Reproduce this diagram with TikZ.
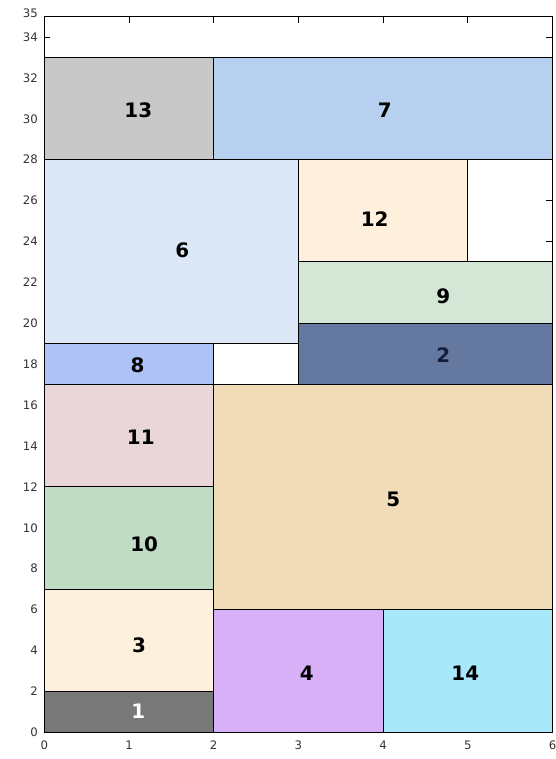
\documentclass[tikz,border=0pt]{standalone}
\usepackage{fontspec}
\setmainfont{DejaVu Sans}
\usepackage{tikz}
\definecolor{cOne}{HTML}{787878}
\definecolor{cTwo}{HTML}{6478A0}
\definecolor{cThree}{HTML}{FDF0DC}
\definecolor{cFour}{HTML}{D8B0F8}
\definecolor{cFive}{HTML}{F2DCB8}
\definecolor{cSix}{HTML}{DCE8F8}
\definecolor{cSeven}{HTML}{B8D0F0}
\definecolor{cEight}{HTML}{AEC2F6}
\definecolor{cNine}{HTML}{D4E6D6}
\definecolor{cTen}{HTML}{C0DCC4}
\definecolor{cEleven}{HTML}{E8D6D8}
\definecolor{cTwelve}{HTML}{FEF0DC}
\definecolor{cThirteen}{HTML}{C8C8C8}
\definecolor{cFourteen}{HTML}{A8E8FA}
\definecolor{cNavy}{HTML}{141E3C}
\newcommand{\boxfont}{\fontsize{17}{20}\selectfont\bfseries}
\newcommand{\tickfont}{\fontsize{10}{12}\selectfont}

\begin{document}
\begin{tikzpicture}[x=2.541cm,y=0.6135cm,
  box/.style={draw=black,line width=0.9pt},
  boxlabel/.style={font=\boxfont,inner sep=0pt},
  ticklabel/.style={font=\tickfont,text=black!80,inner sep=0pt}]
\useasboundingbox (-0.523,-1.306) rectangle (6.041,35.81);
% tick marks (inside the frame, partly hidden by the boxes)
\foreach \xx in {1,...,5}
  {\draw[line width=0.8pt] (\xx,35) -- ++(0,-0.18cm);}
\foreach \yy in {2,4,...,34}
  {\draw[line width=0.8pt] (0,\yy) -- ++(0.18cm,0);
   \draw[line width=0.8pt] (6,\yy) -- ++(-0.18cm,0);}
% tick labels
\foreach \xx in {0,...,6}
  {\node[ticklabel] (xt\xx) at (\xx,-0.62) {\xx};}
\foreach \yy in {0,2,...,34}
  {\node[ticklabel,anchor=east] (yt\yy) at (-0.075,\yy) {\yy};}
\node[ticklabel,anchor=east] (yt35) at (-0.075,35.15) {35};
% boxes: number / lower left / upper right / label position / fill / text
\foreach \num/\xa/\ya/\xb/\yb/\lx/\ly/\col/\tc in {
    1/0/0/2/2/1.11/1.04/cOne/white,
    3/0/2/2/7/1.12/4.24/cThree/black,
    10/0/7/2/12/1.18/9.21/cTen/black,
    11/0/12/2/17/1.14/14.45/cEleven/black,
    8/0/17/2/19/1.10/17.96/cEight/black,
    6/0/19/3/28/1.63/23.55/cSix/black,
    13/0/28/2/33/1.11/30.43/cThirteen/black,
    7/2/28/6/33/4.02/30.43/cSeven/black,
    12/3/23/5/28/3.90/25.10/cTwelve/black,
    9/3/20/6/23/4.71/21.30/cNine/black,
    2/3/17/6/20/4.71/18.45/cTwo/cNavy,
    5/2/6/6/17/4.12/11.41/cFive/black,
    4/2/0/4/6/3.10/2.90/cFour/black,
    14/4/0/6/6/4.97/2.90/cFourteen/black}
  {\filldraw[box,fill=\col] (\xa,\ya) rectangle (\xb,\yb);
   \node[boxlabel,text=\tc] (b\num) at (\lx,\ly) {\num};}
% empty cells
\draw[box] (2,17) rectangle (3,19);
\draw[box] (5,23) rectangle (6,28);
% frame
\draw[box] (0,0) rectangle (6,35);
\end{tikzpicture}
\end{document}
